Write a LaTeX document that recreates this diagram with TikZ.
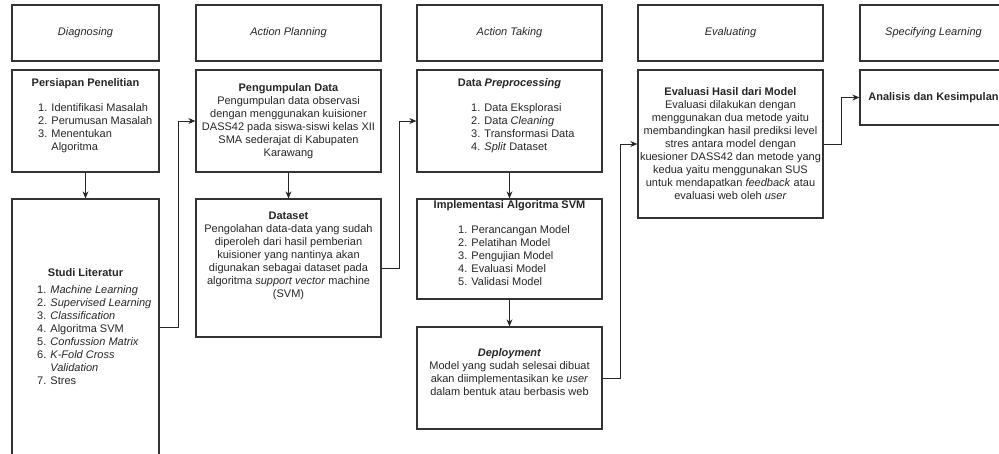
\documentclass[tikz,border=0pt]{standalone}
\usepackage{fontspec}
\setmainfont{Liberation Sans}
\usetikzlibrary{arrows.meta}

\begin{document}
\begin{tikzpicture}[x=1pt, y=-1pt, font=\fontsize{11}{13}\selectfont, text=black!85,
  box/.style={draw=black!80, line width=1.3pt, inner sep=0pt, align=center},
  head/.style={box, minimum height=56pt, font=\fontsize{11}{13}\selectfont\itshape},
  txt/.style={inner sep=0pt, align=center},
  lst/.style={inner sep=0pt, align=left, anchor=west},
  arr/.style={draw=black!85, line width=0.9pt, -{Stealth[length=7pt,width=6pt]}}]
\path[use as bounding box, fill=white] (0,0) rectangle (999,453);
\clip (0,0) rectangle (999,453);
\node[head, minimum width=147pt] (diagnosing) at (85.5,33) {Diagnosing};
\node[head, minimum width=185pt] (planning) at (288.5,33) {Action Planning};
\node[head, minimum width=185pt] (taking) at (509.5,33) {Action Taking};
\node[head, minimum width=185pt] (evaluating) at (730.5,33) {Evaluating};
\node[head, minimum width=147pt] (specifying) at (933.5,33) {Specifying Learning};
\node[box, minimum width=147pt, minimum height=102pt] (persiapan) at (85.5,121) {};
\node[box, minimum width=147pt, minimum height=256pt] (studi) at (85.5,327) {};
\node[box, minimum width=185pt, minimum height=102pt] (pengumpulan) at (288.5,121) {\textbf{Pengumpulan Data}\\Pengumpulan data observasi\\dengan menggunakan kuisioner\\DASS42 pada siswa-siswi kelas XII\\SMA sederajat di Kabupaten\\Karawang};
\node[box, minimum width=185pt, minimum height=138pt] (dataset) at (288.5,268) {};
\node[box, minimum width=185pt, minimum height=102pt] (preproc) at (509.5,121) {};
\node[box, minimum width=185pt, minimum height=100pt] (implementasi) at (509.5,249) {};
\node[box, minimum width=185pt, minimum height=102pt] (deploy) at (509.5,378) {};
\node[box, minimum width=185pt, minimum height=148pt] (evaluasi) at (730.5,144) {\textbf{Evaluasi Hasil dari Model}\\Evaluasi dilakukan dengan\\menggunakan dua metode yaitu\\membandingkan hasil prediksi level\\stres antara model dengan\\kuesioner DASS42 dan metode yang\\kedua yaitu menggunakan SUS\\untuk mendapatkan \textit{feedback} atau\\evaluasi web oleh \textit{user}};
\node[box, minimum width=147pt, minimum height=55pt] (analisis) at (933.5,97.5) {\textbf{Analisis dan Kesimpulan}};
\node[txt] (persiapanT) at (85.5,84) {\textbf{Persiapan Penelitian}};
\node[lst] (persiapanL) at (38,128.5) {1. Identifikasi Masalah\\2. Perumusan Masalah\\3. Menentukan\\\hphantom{3. }Algoritma};
\node[txt] (studiT) at (85.5,273) {\textbf{Studi Literatur}};
\node[lst] (studiL) at (37,335) {1. \textit{Machine Learning}\\2. \textit{Supervised Learning}\\3. \textit{Classification}\\4. Algoritma SVM\\5. \textit{Confussion Matrix}\\6. \textit{K-Fold Cross}\\\hphantom{6. }\textit{Validation}\\7. Stres};
\node[txt] (datasetT) at (288.5,256) {\textbf{Dataset}\\Pengolahan data-data yang sudah\\diperoleh dari hasil pemberian\\kuisioner yang nantinya akan\\digunakan sebagai dataset pada\\algoritma \textit{support vector} machine\\(SVM)};
\node[txt] (preprocT) at (509.5,84) {\textbf{Data \textit{Preprocessing}}};
\node[lst] (preprocL) at (471,128.5) {1. Data Eksplorasi\\2. Data \textit{Cleaning}\\3. Transformasi Data\\4. \textit{Split} Dataset};
\node[txt] (implementasiT) at (509.5,206) {\textbf{Implementasi Algoritma SVM}};
\node[lst] (implementasiL) at (458,256) {1. Perancangan Model\\2. Pelatihan Model\\3. Pengujian Model\\4. Evaluasi Model\\5. Validasi Model};
\node[txt] (deployT) at (509.5,372.5) {\textbf{\textit{Deployment}}\\Model yang sudah selesai dibuat\\akan diimplementasikan ke \textit{user}\\dalam bentuk atau berbasis web};
\draw[arr] (persiapan.south) -- (studi.north);
\draw[arr] (pengumpulan.south) -- (dataset.north);
\draw[arr] (preproc.south) -- (implementasi.north);
\draw[arr] (implementasi.south) -- (deploy.north);
\draw[arr] (studi.east) -- ++(19,0) |- (pengumpulan.west);
\draw[arr] (dataset.east) -- ++(18,0) |- (preproc.west);
\draw[arr] (deploy.east) -- ++(18,0) |- (evaluasi.west);
\draw[arr] (evaluasi.east) -- ++(18,0) |- (analisis.west);
\end{tikzpicture}
\end{document}
